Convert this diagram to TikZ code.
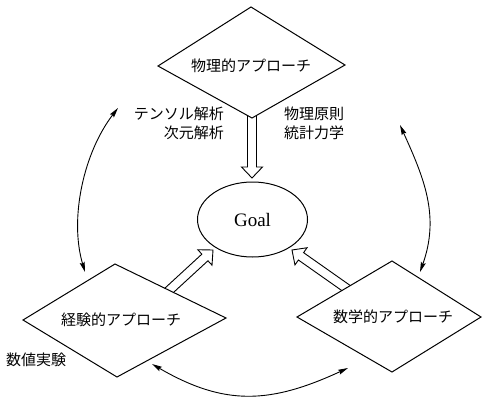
\documentclass[tikz,border=0pt]{standalone}
\usepackage{fontspec}
\setmainfont{Liberation Serif}
\newfontfamily\jpfont{Noto Sans CJK JP}
\usetikzlibrary{arrows.meta,calc,shapes.geometric}

\newcommand\HollowArrow[2]{%
  \coordinate (hb) at ($(#2)!11pt!(#1)$);
  \draw[hollow] ($(#1)!4.5pt!90:(#2)$) -- ($(hb)!4.5pt!90:(#2)$) -- ($(hb)!10.5pt!90:(#2)$)
    -- (#2) -- ($(hb)!10.5pt!-90:(#2)$) -- ($(hb)!4.5pt!-90:(#2)$) -- ($(#1)!4.5pt!-90:(#2)$);
}

\begin{document}
\begin{tikzpicture}[x=1pt,y=-1pt,
  lbl/.style={font=\jpfont\fontsize{15}{19}\selectfont, inner sep=0pt},
  approach/.style={draw, fill=white, line width=1pt, line join=miter},
  cyc/.style={draw, line width=0.9pt, {Stealth[length=10pt,width=5pt,inset=1.5pt]}-{Stealth[length=10pt,width=5pt,inset=1.5pt]}},
  hollow/.style={draw, line width=0.9pt, line join=miter}]
\useasboundingbox (0,0) rectangle (482,399);

% goal
\node[ellipse, draw, line width=1pt, minimum width=110pt, minimum height=75pt, inner sep=0pt,
      font=\fontsize{19}{22}\selectfont] (goal) at (252.5,219.5) {Goal};

% hollow arrow end points
\coordinate (tS) at (252,108);
\coordinate (tE) at (252,178);
\coordinate (lS) at (163,296);
\coordinate (lE) at (213,250);
\coordinate (rS) at (352.5,292.6);
\coordinate (rE) at (292,250);
\HollowArrow{tS}{tE}
\HollowArrow{lS}{lE}
\HollowArrow{rS}{rE}

% approach diamonds
\draw[approach] (158,66) -- (251,7) -- (345,65) -- (252,118) -- cycle;
\draw[approach] (23,320) -- (115,264) -- (226,318) -- (117,377) -- cycle;
\draw[approach] (297,317) -- (392,261) -- (481,317) -- (392,372) -- cycle;

\node[lbl] (phys) at (251,66) {物理的アプローチ};
\node[lbl] (emp) at (121,320) {経験的アプローチ};
\node[lbl] (math) at (393,317) {数学的アプローチ};

\node[lbl, align=right, anchor=east] (tensor) at (224,123.5) {テンソル解析\\次元解析};
\node[lbl, align=left, anchor=west] (physp) at (284,123.5) {物理原則\\統計力学};
\node[lbl, anchor=west] (num) at (6,360) {数値実験};

% cycle arrows
\coordinate (la) at (118,108);
\coordinate (lb) at (85,272);
\coordinate (ra) at (400,125);
\coordinate (rb) at (420,272);
\coordinate (ba) at (152,364);
\coordinate (bb) at (348,368);
\draw[cyc] (la) .. controls (84,152) and (69,218) .. (lb);
\draw[cyc] (ra) .. controls (424,178) and (440,216) .. (rb);
\draw[cyc] (ba) .. controls (225,406.5) and (270.6,403.7) .. (bb);
\end{tikzpicture}
\end{document}
